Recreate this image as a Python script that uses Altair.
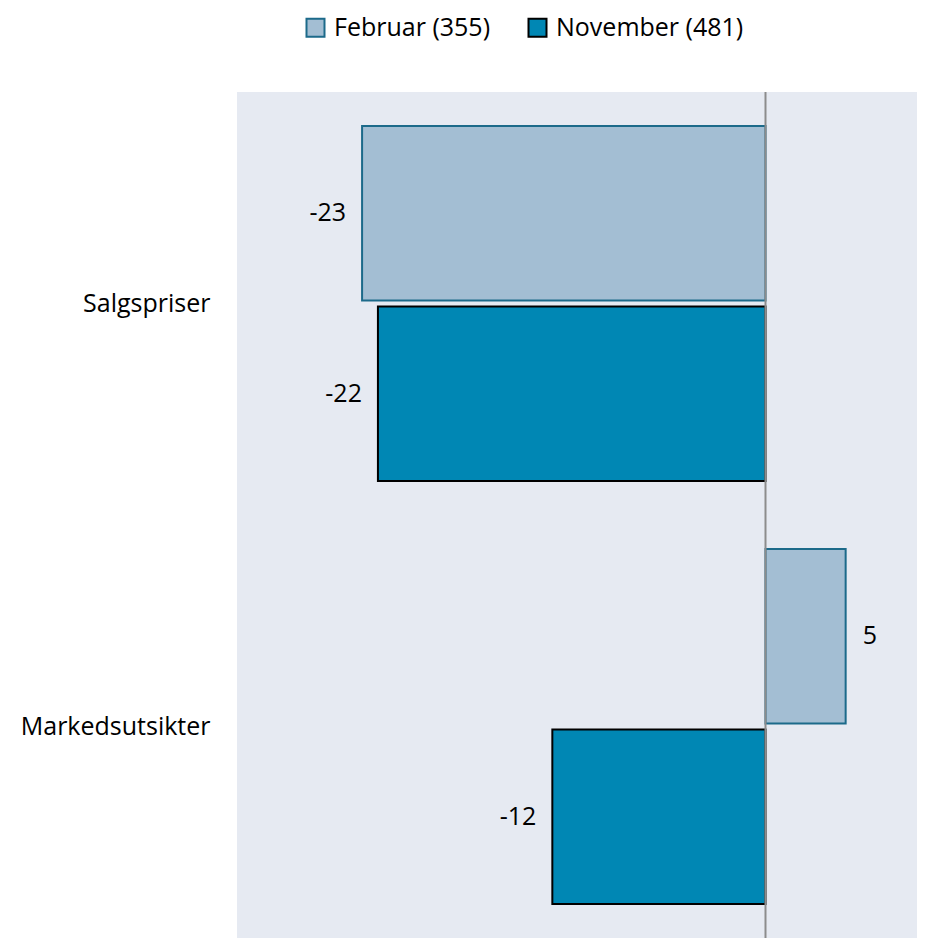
import altair as alt
import pandas as pd

categories = ["Salgspriser", "Markedsutsikter"]
series = ["Februar (355)", "November (481)"]
feb_values = [-22.9, 4.55]
nov_values = [-22.0, -12.1]

fill_colors = ["#A3BED3", "#0087B4"]
stroke_colors = ["#1C6A8A", "#000000"]

rows = []
for i, c in enumerate(categories):
    rows.append({"cat": c, "series": series[0], "value": feb_values[i]})
    rows.append({"cat": c, "series": series[1], "value": nov_values[i]})
df = pd.DataFrame(rows)

FONT = "Open Sans"
FS = 25

y_enc = alt.Y("cat:N", sort=categories,
              scale=alt.Scale(paddingInner=0.161, paddingOuter=0.0805),
              axis=alt.Axis(title=None, ticks=False, domain=False, labelFont=FONT,
                            labelFontSize=FS, labelColor="#000000", labelPadding=27,
                            labelLimit=400))
yoff_enc = alt.YOffset("series:N", sort=series, scale=alt.Scale(paddingInner=0.033, paddingOuter=0))
x_scale = alt.Scale(domain=[-30, 8.6], nice=False, zero=True)
x_enc = alt.X("value:Q", scale=x_scale, axis=None)

legend = alt.Legend(title=None, orient="none", direction="horizontal",
                    legendX=66, legendY=-77, symbolType="square",
                    symbolSize=324, symbolStrokeWidth=2,
                    labelFont=FONT, labelFontSize=FS, labelColor="#000000",
                    labelOffset=6, columnPadding=33, padding=0,
                    labelLimit=400)

base = alt.Chart(df)

bars = base.mark_bar(strokeWidth=2).encode(
    y=y_enc,
    yOffset=yoff_enc,
    x=x_enc,
    x2=alt.datum(0),
    fill=alt.Fill("series:N", sort=series,
                  scale=alt.Scale(domain=series, range=fill_colors),
                  legend=legend),
    stroke=alt.Stroke("series:N", sort=series,
                      scale=alt.Scale(domain=series, range=stroke_colors),
                      legend=legend),
)

labelled = base.transform_calculate(label="toString(round(datum.value))")

neg_text = labelled.transform_filter("datum.value < 0").mark_text(
    align="right", baseline="middle", dx=-16, font=FONT, fontSize=FS, color="#000000"
).encode(y=y_enc, yOffset=yoff_enc, x=x_enc, text="label:N")

pos_text = labelled.transform_filter("datum.value >= 0").mark_text(
    align="left", baseline="middle", dx=17, font=FONT, fontSize=FS, color="#000000"
).encode(y=y_enc, yOffset=yoff_enc, x=x_enc, text="label:N")

zero_rule = alt.Chart(pd.DataFrame({"z": [0]})).mark_rule(color="#8C8C8C", strokeWidth=2).encode(
    x=alt.X("z:Q", scale=x_scale, axis=None)
)

chart = alt.layer(bars, zero_rule, neg_text, pos_text).properties(
    width=680, height=846,
    autosize=alt.AutoSizeParams(type="none"),
    padding={"left": 229, "top": 84, "right": 0, "bottom": 0},
).configure_view(
    fill="#E6EAF2", stroke=None
)

chart.save("out.html", embed_options={"renderer": "svg", "actions": False})
